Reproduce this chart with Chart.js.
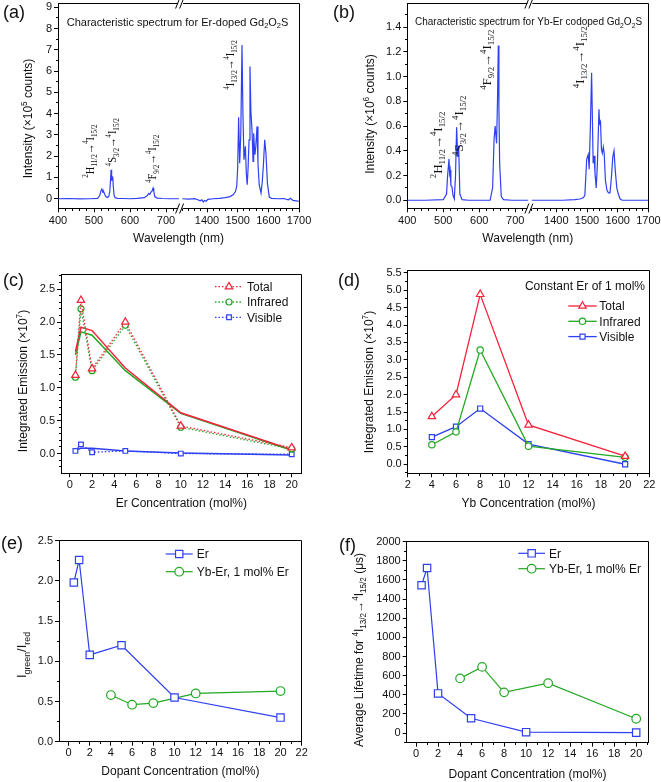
<!DOCTYPE html>
<html>
<head>
<meta charset="utf-8">
<script src="https://cdn.jsdelivr.net/npm/chart.js@4.4.1/dist/chart.umd.min.js"></script>
<style>
  body { margin: 0; background: #fff; width: 661px; height: 782px; position: relative; overflow: hidden; }
  canvas { position: absolute; left: 0; top: 0; }
</style>
</head>
<body>
<canvas id="pa" width="661" height="782"></canvas>
<canvas id="pb" width="661" height="782"></canvas>
<canvas id="pc" width="661" height="782"></canvas>
<canvas id="pd" width="661" height="782"></canvas>
<canvas id="pe" width="661" height="782"></canvas>
<canvas id="pf" width="661" height="782"></canvas>
<script>
// ---------- data ----------
// (a) Er-doped Gd2O2S spectrum, intensity x1e5 counts
const specA_visW = [400, 430, 460, 490, 510, 516, 519, 522, 525, 527, 530, 533, 537, 541, 544, 546, 547.5, 549, 550.5, 552, 553.5, 556, 559, 565, 580, 600, 620, 640, 648, 652, 655, 658, 661, 664, 666, 669, 675, 690, 710, 736];
const specA_visI = [0, 0.01, -0.01, 0, 0.02, 0.15, 0.35, 0.45, 0.3, 0.33, 0.2, 0.1, 0.06, 0.1, 0.35, 0.9, 1.36, 0.85, 1.0, 1.05, 0.6, 0.15, 0.05, 0.02, 0.01, 0, 0.02, 0.05, 0.15, 0.25, 0.2, 0.3, 0.35, 0.5, 0.35, 0.1, 0.03, 0.01, 0, 0];
const specA_irW = [1320, 1340, 1360, 1370, 1378, 1383, 1388, 1392, 1397, 1403, 1420, 1440, 1460, 1475, 1486, 1493, 1497, 1500, 1503, 1506.5, 1510, 1514, 1517, 1520.5, 1523, 1525, 1528, 1531, 1534, 1537, 1540, 1543, 1546.5, 1550, 1552, 1556, 1559, 1563, 1566, 1570, 1576, 1580, 1584, 1588, 1592, 1597, 1603, 1610, 1630, 1650, 1665, 1672, 1680, 1690, 1700];
const specA_irI = [0, -0.02, 0, -0.05, -0.1, -0.05, -0.15, -0.08, -0.12, -0.03, 0, 0.02, 0.05, 0.1, 0.2, 0.35, 0.6, 1.5, 3.83, 1.67, 3.0, 7.23, 4.0, 1.83, 2.2, 2.46, 1.2, 0.66, 1.5, 2.77, 6.21, 4.1, 3.24, 1.75, 3.08, 2.07, 2.46, 3.4, 1.67, 0.66, 0.27, 0.8, 1.67, 2.77, 2.14, 0.7, 0.08, 0.02, 0, 0.01, -0.05, 0.02, -0.08, -0.1, -0.12];

// (b) Yb-Er codoped spectrum, intensity x1e6 counts
const specB_visW = [400, 450, 500, 509, 512, 515.8, 517.5, 519, 521, 524, 527, 530.6, 534, 537, 540, 542.6, 546, 552, 570, 600, 630, 637, 641, 644, 648, 650.5, 652.8, 654.5, 656.5, 661, 667, 690, 736];
const specB_visI = [0, 0, 0.005, 0.05, 0.2, 0.334, 0.22, 0.245, 0.12, 0.11, 0.04, 0.01, 0.2, 0.59, 0.35, 0.44, 0.05, 0.005, 0, 0, 0, 0.1, 0.49, 0.6, 0.46, 0.8, 1.25, 0.75, 0.3, 0.03, 0.005, 0, 0];
const specB_irW = [1320, 1420, 1460, 1477, 1488, 1493, 1499, 1504, 1507, 1511, 1515, 1518, 1520, 1523, 1526, 1530, 1534, 1539, 1541, 1544, 1547, 1550, 1553, 1556, 1560, 1565, 1570, 1575, 1580, 1584, 1588, 1592, 1597, 1602, 1608, 1615, 1640, 1700];
const specB_irI = [0, 0, 0.005, 0.01, 0.02, 0.04, 0.33, 0.37, 0.25, 0.6, 1.03, 0.6, 0.3, 0.36, 0.22, 0.1, 0.3, 0.735, 0.62, 0.636, 0.41, 0.38, 0.43, 0.38, 0.16, 0.08, 0.06, 0.06, 0.2, 0.35, 0.4, 0.245, 0.1, 0.05, 0.01, 0, 0, 0];

const waveTicks = [400, 500, 600, 700, 1400, 1500, 1600, 1700];

// (c) Er concentration series, x1e7
const erConc = [0.5, 1, 2, 5, 10, 20];
const cTotal = [1.19, 2.33, 1.29, 2.0, 0.42, 0.09];
const cInfrared = [1.16, 2.2, 1.26, 1.95, 0.4, 0.07];
const cVisible = [0.04, 0.14, 0.02, 0.04, 0.0, -0.01];
const cTotalSolid = [1.55, 1.92, 1.87, 1.3, 0.62, 0.06];
const cInfraredSolid = [1.5, 1.85, 1.8, 1.26, 0.61, 0.05];
const cVisibleSolid = [0.05, 0.08, 0.08, 0.04, 0.01, -0.02];

// (d) Yb concentration series, x1e7
const ybConc = [4, 6, 8, 12, 20];
const dTotal = [1.37, 2.0, 4.88, 1.13, 0.23];
const dInfrared = [0.56, 0.93, 3.28, 0.52, 0.2];
const dVisible = [0.78, 1.08, 1.6, 0.58, 0.0];

// (e) green/red ratio
const eEr = [1.98, 2.26, 1.08, 1.2, 0.55, 0.3];
const eYbEr = [0.58, 0.46, 0.48, 0.6, 0.63];

// (f) average lifetime (us)
const fEr = [1545, 1725, 415, 155, 10, 5];
const fYbEr = [572, 692, 426, 522, 150];

const concTicks20 = [0, 2, 4, 6, 8, 10, 12, 14, 16, 18, 20];
const concTicks22 = [0, 2, 4, 6, 8, 10, 12, 14, 16, 18, 20, 22];
const ybTicks = [2, 4, 6, 8, 10, 12, 14, 16, 18, 20, 22];

// ---------- style ----------
const SANS = '"Liberation Sans", Arial, sans-serif';
const SERIF = '"Liberation Serif", "Times New Roman", serif';
const BLUE = '#2e40f2', RED = '#f7213a', GREEN = '#22a822';
const YW = 45, XH = 30;

// broken wavelength axis: 400-736 nm on the left, 1320-1700 nm on the right
function waveToAxis(w) { return w < 1000 ? (w - 400) * 0.36 : 149 + (w - 1400) * 0.307; }
const BREAK_AT = 122.6;

const pts = (xs, ys) => xs.map((x, i) => ({ x, y: ys[i] }));
const range = (a, b, s) => { const r = []; for (let v = a; v <= b + 1e-9; v += s) r.push(+v.toFixed(4)); return r; };

function parseRich(s) {
  const out = [], re = /\^\{([^}]*)\}|_\{([^}]*)\}|([^^_]+)/g;
  let m;
  while ((m = re.exec(s))) {
    if (m[1] !== undefined) out.push({ t: m[1], k: 'sup' });
    else if (m[2] !== undefined) out.push({ t: m[2], k: 'sub' });
    else out.push({ t: m[3], k: '' });
  }
  return out;
}

// draws text with ^{..} / _{..} parts; y is the middle of the capitals
function drawRich(ctx, s, x, y, o) {
  const segs = parseRich(s), fam = o.family || SANS, small = o.size * 0.68;
  ctx.save();
  ctx.translate(x, y);
  if (o.rot) ctx.rotate(o.rot);
  if (o.sx) ctx.scale(o.sx, 1);
  let w = 0;
  segs.forEach(sg => { ctx.font = (sg.k ? small : o.size) + 'px ' + fam; sg.w = ctx.measureText(sg.t).width; w += sg.w; });
  let cx = o.align === 'center' ? -w / 2 : o.align === 'right' ? -w : 0;
  ctx.fillStyle = '#111';
  ctx.textBaseline = 'alphabetic';
  ctx.textAlign = 'left';
  segs.forEach(sg => {
    ctx.font = (sg.k ? small : o.size) + 'px ' + fam;
    const dy = sg.k === 'sup' ? -o.size * 0.42 : sg.k === 'sub' ? o.size * 0.24 : 0;
    ctx.fillText(sg.t, cx, o.size * 0.36 + dy);
    cx += sg.w;
  });
  ctx.restore();
}

function markerPath(ctx, style, x, y, r) {
  ctx.beginPath();
  if (style === 'triangle') {
    let rad = 0;
    for (let k = 0; k < 3; k++) {
      const px = x + Math.sin(rad) * r, py = y - Math.cos(rad) * r;
      k ? ctx.lineTo(px, py) : ctx.moveTo(px, py);
      rad += Math.PI * 2 / 3;
    }
    ctx.closePath();
  } else if (style === 'rect') {
    const s = Math.SQRT1_2 * r;
    ctx.rect(x - s, y - s, 2 * s, 2 * s);
  } else {
    ctx.arc(x, y, r, 0, Math.PI * 2);
  }
}

const al = v => Math.round(v - 0.5) + 0.5;

function panelPlugin(p) {
  return {
    id: 'panel_' + p.canvas,
    afterDraw(chart) {
      const ctx = chart.ctx, a = chart.chartArea, xs = chart.scales.x, ys = chart.scales.y;
      const seg = (x1, y1, x2, y2) => { ctx.beginPath(); ctx.moveTo(x1, y1); ctx.lineTo(x2, y2); ctx.stroke(); };
      ctx.save();
      ctx.strokeStyle = '#000';
      ctx.lineWidth = 1;
      const L = al(a.left), R = al(a.right), T = al(a.top), B = al(a.bottom);
      if (p.broken) {
        const g = xs.getPixelForValue(BREAK_AT);
        [T, B].forEach(y => {
          seg(L, y, g - 2.5, y); seg(g + 2.5, y, R, y);
          seg(g - 5, y + 5, g - 1, y - 5); seg(g - 1, y + 5, g + 3, y - 5);
        });
      } else {
        seg(L, T, R, T);
      }
      seg(R, T, R, B);
      // minor ticks
      p.xMinor.forEach(v => { const px = al(xs.getPixelForValue(v)); if (px > a.left && px < a.right) seg(px, B, px, B + 2.5); });
      p.yMinor.forEach(v => { const py = al(ys.getPixelForValue(v)); if (py > a.top && py < a.bottom) seg(L - 2.5, py, L, py); });

      // legend built from the datasets
      if (p.legend) {
        const lg = p.legend;
        chart.data.datasets.filter(d => d.inLegend).forEach((d, i) => {
          const y = lg.y + i * lg.dy, mx = (lg.x1 + lg.x2) / 2;
          ctx.save();
          ctx.strokeStyle = d.borderColor; ctx.lineWidth = d.borderWidth;
          ctx.setLineDash(d.borderDash || []);
          seg(lg.x1, y, lg.x2, y);
          ctx.setLineDash([]);
          ctx.lineWidth = d.pointBorderWidth;
          markerPath(ctx, d.pointStyle, mx, y, d.pointRadius);
          ctx.fillStyle = '#fff'; ctx.fill(); ctx.stroke();
          ctx.restore();
          drawRich(ctx, d.label, lg.tx, y, { size: 12 });
        });
      }
      // texts
      drawRich(ctx, p.tag, p.tagPos[0], p.tagPos[1], { size: 18 });
      drawRich(ctx, p.xTitle, (a.left + a.right) / 2, p.xTitleY, { size: 12, align: 'center' });
      drawRich(ctx, p.yTitle, p.yTitlePos[0], p.yTitlePos[1], { size: p.yTitleSize || 12, align: 'center', rot: -Math.PI / 2 });
      (p.texts || []).forEach(t => drawRich(ctx, t.s, t.x, t.y, { size: t.size, align: t.align }));
      (p.notes || []).forEach(n => drawRich(ctx, n.s, xs.getPixelForValue(waveToAxis(n.w)), ys.getPixelForValue(n.v),
        { size: p.noteSize, family: SERIF, rot: -Math.PI / 2, sx: p.noteSx }));
      ctx.restore();
    }
  };
}

function axisOpts(pos, ax) {
  return {
    type: 'linear', position: pos, min: ax.min, max: ax.max,
    afterFit(s) {
      if (pos === 'left') s.width = YW; else s.height = XH;
      s.paddingTop = s.paddingBottom = s.paddingLeft = s.paddingRight = 0;
    },
    afterBuildTicks(s) { s.ticks = ax.ticks.map(v => ({ value: v })); },
    ticks: {
      autoSkip: false, maxRotation: 0, color: '#111', padding: ax.pad,
      font: { family: SANS, size: 11 }, callback: ax.fmt
    },
    grid: { drawOnChartArea: false, drawTicks: true, tickLength: 4, color: '#000', lineWidth: 1 },
    border: { display: !ax.noBorder, color: '#000', width: 1 }
  };
}

function makePanel(p) {
  const [l, t, r, b] = p.area;
  return new Chart(document.getElementById(p.canvas), {
    type: 'line',
    data: { datasets: p.datasets },
    options: {
      responsive: false, animation: false, devicePixelRatio: 1,
      layout: { autoPadding: false, padding: { left: l - YW, top: t, right: 661 - r, bottom: 782 - b - XH } },
      plugins: { legend: { display: false }, tooltip: { enabled: false } },
      elements: { line: { tension: 0 } },
      scales: { x: axisOpts('bottom', p.x), y: axisOpts('left', p.y) }
    },
    plugins: [panelPlugin(p)]
  });
}

function spectrum(ws, is) {
  return { data: pts(ws.map(waveToAxis), is), borderColor: BLUE, borderWidth: 1.2, pointRadius: 0 };
}

function series(label, xs, ys, color, style, r, extra) {
  return Object.assign({
    label, inLegend: true, data: pts(xs, ys), borderColor: color, borderWidth: 1.3,
    pointStyle: style, pointRadius: r, pointBorderWidth: 1.2, pointBorderColor: color,
    pointBackgroundColor: '#fff'
  }, extra || {});
}

function solid(xs, ys, color) {
  return { data: pts(xs, ys), borderColor: color, borderWidth: 1.5, pointRadius: 0 };
}

const waveMinor = range(420, 720, 20).concat(range(1320, 1680, 20)).filter(w => !waveTicks.includes(w)).map(waveToAxis);
const waveAxis = (pad) => ({ min: 0, max: 241, ticks: waveTicks.map(waveToAxis), fmt: (v, i) => waveTicks[i], pad, noBorder: true });

// ---------- panels ----------
makePanel({
  canvas: 'pa', area: [58, 3, 299, 208.3], broken: true,
  x: waveAxis(2), y: { min: -0.45, max: 9.2, ticks: range(0, 9, 1), fmt: v => v, pad: 2 },
  xMinor: waveMinor, yMinor: range(-0.5, 9, 0.5),
  datasets: [spectrum(specA_visW, specA_visI), spectrum(specA_irW, specA_irI)],
  tag: '(a)', tagPos: [3, 12],
  xTitle: 'Wavelength (nm)', xTitleY: 238,
  yTitle: 'Intensity (\u00d710^{5} counts)', yTitlePos: [27.5, 118.5],
  texts: [{ s: 'Characteristic spectrum for Er-doped Gd_{2}O_{2}S', x: 66.7, y: 21.7, size: 11 }],
  noteSize: 13, noteSx: 0.8,
  notes: [
    { s: '^{2}H_{11/2}\u2192^{4}I_{15/2}', w: 486, v: 0.99 },
    { s: '^{4}S_{3/2}\u2192^{4}I_{15/2}', w: 549, v: 1.52 },
    { s: '^{4}F_{9/2}\u2192^{4}I_{15/2}', w: 660, v: 0.74 },
    { s: '^{4}I_{13/2}\u2192^{4}I_{15/2}', w: 1473, v: 5.12 }
  ]
});

makePanel({
  canvas: 'pb', area: [407.3, 3, 648.3, 208.3], broken: true,
  x: waveAxis(2), y: { min: -0.065, max: 1.594, ticks: range(0, 1.4, 0.2), fmt: v => v.toFixed(1), pad: 2 },
  xMinor: waveMinor, yMinor: range(0, 1.5, 0.1),
  datasets: [spectrum(specB_visW, specB_visI), spectrum(specB_irW, specB_irI)],
  tag: '(b)', tagPos: [333, 12],
  xTitle: 'Wavelength (nm)', xTitleY: 238,
  yTitle: 'Intensity (\u00d710^{6} counts)', yTitlePos: [370, 114],
  texts: [{ s: 'Characteristic spectrum for Yb-Er codoped Gd_{2}O_{2}S', x: 415, y: 21.7, size: 10 }],
  noteSize: 13,
  notes: [
    { s: '^{2}H_{11/2}\u2192^{4}I_{15/2}', w: 483, v: 0.178 },
    { s: '^{4}S_{3/2}\u2192^{4}I_{15/2}', w: 542, v: 0.358 },
    { s: '^{4}F_{9/2}\u2192^{4}I_{15/2}', w: 620.5, v: 0.892 },
    { s: '^{4}I_{13/2}\u2192^{4}I_{15/2}', w: 1475, v: 0.906 }
  ]
});

const dotted = { borderDash: [1.5, 2], borderWidth: 1.3 };
makePanel({
  canvas: 'pc', area: [61, 274, 301.7, 473.3],
  x: { min: -0.8, max: 20.9, ticks: concTicks20, fmt: v => v, pad: 1 },
  y: { min: -0.3, max: 2.73, ticks: range(0, 2.5, 0.5), fmt: v => v.toFixed(1), pad: 2 },
  xMinor: range(-0, 20, 1), yMinor: range(-0.3, 2.7, 0.1),
  datasets: [
    series('Total', erConc, cTotal, RED, 'triangle', 4.3, dotted),
    series('Infrared', erConc, cInfrared, GREEN, 'circle', 3, dotted),
    series('Visible', erConc, cVisible, BLUE, 'rect', 3.3, dotted),
    solid(erConc, cTotalSolid, RED), solid(erConc, cInfraredSolid, GREEN), solid(erConc, cVisibleSolid, BLUE)
  ],
  legend: { x1: 215, x2: 243, tx: 247, y: 286.7, dy: 15.3 },
  tag: '(c)', tagPos: [3, 280],
  xTitle: 'Er Concentration (mol%)', xTitleY: 503,
  yTitle: 'Integrated Emission (\u00d710^{7})', yTitlePos: [22.7, 381]
});

makePanel({
  canvas: 'pd', area: [407.7, 270, 649.3, 473.3],
  x: { min: 2, max: 22, ticks: ybTicks, fmt: v => v, pad: 1 },
  y: { min: -0.26, max: 5.58, ticks: range(0, 5.5, 0.5), fmt: v => v.toFixed(1), pad: 2 },
  xMinor: range(3, 21, 1), yMinor: range(-0.25, 5.5, 0.25),
  datasets: [
    series('Total', ybConc, dTotal, RED, 'triangle', 4.3),
    series('Infrared', ybConc, dInfrared, GREEN, 'circle', 3.2),
    series('Visible', ybConc, dVisible, BLUE, 'rect', 3.6)
  ],
  legend: { x1: 568.3, x2: 596.7, tx: 599.3, y: 306, dy: 15.3 },
  tag: '(d)', tagPos: [338, 280],
  xTitle: 'Yb Concentration (mol%)', xTitleY: 502.7,
  yTitle: 'Integrated Emission (\u00d710^{7})', yTitlePos: [368.3, 382],
  texts: [{ s: 'Constant Er of 1 mol%', x: 645, y: 286, size: 12, align: 'right' }]
});

makePanel({
  canvas: 'pe', area: [59, 540.7, 301.7, 741.7],
  x: { min: -0.9, max: 22, ticks: concTicks22, fmt: v => v, pad: 1 },
  y: { min: 0, max: 2.5, ticks: range(0, 2.5, 0.5), fmt: v => v.toFixed(1), pad: 2 },
  xMinor: range(1, 21, 1), yMinor: range(0.25, 2.25, 0.25),
  datasets: [
    series('Er', erConc, eEr, BLUE, 'rect', 5.2, { borderWidth: 1.2 }),
    series('Yb-Er, 1 mol% Er', ybConc, eYbEr, GREEN, 'circle', 4.3, { borderWidth: 1.2 })
  ],
  legend: { x1: 165.7, x2: 192.7, tx: 196.7, y: 554, dy: 17.7 },
  tag: '(e)', tagPos: [1, 543],
  xTitle: 'Dopant Concentration (mol%)', xTitleY: 770.7,
  yTitle: 'I_{green}/I_{red}', yTitlePos: [21.7, 655], yTitleSize: 13
});

makePanel({
  canvas: 'pf', area: [406.7, 541.7, 648.3, 742.7],
  x: { min: -0.85, max: 21.1, ticks: concTicks20, fmt: v => v, pad: 1 },
  y: { min: -100, max: 2000, ticks: range(0, 2000, 200), fmt: v => v, pad: 2 },
  xMinor: range(1, 21, 1), yMinor: range(-100, 1900, 100),
  datasets: [
    series('Er', erConc, fEr, BLUE, 'rect', 5.2, { borderWidth: 1.2 }),
    series('Yb-Er, 1 mol% Er', ybConc, fYbEr, GREEN, 'circle', 4.3, { borderWidth: 1.2 })
  ],
  legend: { x1: 518.3, x2: 545, tx: 549, y: 553.3, dy: 15.4 },
  tag: '(f)', tagPos: [339, 545],
  xTitle: 'Dopant Concentration (mol%)', xTitleY: 774,
  yTitle: 'Average Lifetime for ^{4}I_{13/2}\u2192^{4}I_{15/2} (\u03bcs)', yTitlePos: [358.3, 650]
});
</script>
</body>
</html>
